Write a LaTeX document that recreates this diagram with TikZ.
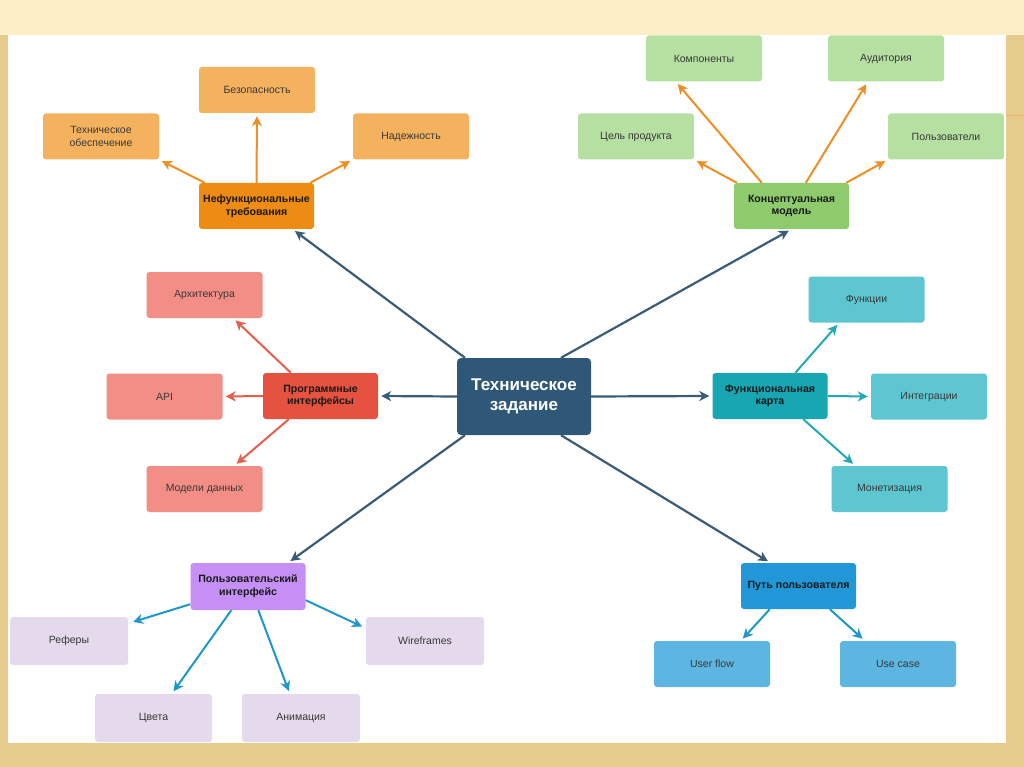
\documentclass[tikz,border=0pt]{standalone}
\usepackage{fontspec}
\setmainfont{Liberation Sans}
\usetikzlibrary{arrows.meta,calc}
\definecolor{frameA}{HTML}{E6CC8C}
\definecolor{frameB}{HTML}{FCEFC8}
\definecolor{cdark}{HTML}{2F5878}
\definecolor{carrow}{HTML}{3A5C76}
\definecolor{orP}{HTML}{EE8B12}
\definecolor{orC}{HTML}{F5B25E}
\definecolor{orA}{HTML}{EE8F24}
\definecolor{grP}{HTML}{8ECB6C}
\definecolor{grC}{HTML}{B6E0A2}
\definecolor{rdP}{HTML}{E5523F}
\definecolor{rdC}{HTML}{F28E85}
\definecolor{rdA}{HTML}{E5604C}
\definecolor{tlP}{HTML}{17A6B2}
\definecolor{tlC}{HTML}{5DC6D0}
\definecolor{tlA}{HTML}{22A9B5}
\definecolor{puP}{HTML}{C68FF5}
\definecolor{puC}{HTML}{E4DAEB}
\definecolor{blA}{HTML}{1F98C9}
\definecolor{blP}{HTML}{2197D7}
\definecolor{blC}{HTML}{5DB6E1}
\tikzset{
  bx/.style={rounded corners=3pt, minimum width=116pt, minimum height=46pt, align=center, inner sep=2pt, text=black!78, font=\fontsize{10.5}{12.5}\selectfont},
  pbx/.style={bx, minimum width=115pt, font=\fontsize{10.6}{12.8}\selectfont\bfseries, text=black!90},
  arr/.style={-{Stealth[length=10pt,width=10pt,inset=3pt]}, line width=2pt, shorten >=3pt},
  carr/.style={arr, color=carrow, line width=2.2pt},
}
\begin{document}
\begin{tikzpicture}[x=1pt,y=-1pt]
\useasboundingbox (0,0) rectangle (1024,767);
\fill[frameA] (0,0) rectangle (1024,767);
\fill[frameB] (0,0) rectangle (1024,35);
\fill[white] (8,35) rectangle (1006,743);
\draw[orA!70, line width=1pt] (1006,116) -- (1024,116);

% center
\node[rounded corners=4pt, fill=cdark, minimum width=134pt, minimum height=77pt, align=center, text=white, font=\fontsize{17}{20}\selectfont\bfseries] (c) at (524,396.5) {Техническое\\задание};

% orange group
\node[pbx, fill=orP] (nf) at (256.5,206) {Нефункциональные\\требования};
\node[bx, fill=orC] (bez) at (257,90) {Безопасность};
\node[bx, fill=orC] (teh) at (101,136.5) {Техническое\\обеспечение};
\node[bx, fill=orC] (nad) at (411,136.5) {Надежность};

% green group
\node[pbx, fill=grP] (km) at (791.5,206) {Концептуальная\\модель};
\node[bx, fill=grC] (komp) at (704,58.5) {Компоненты};
\node[bx, fill=grC] (aud) at (886,58.5) {Аудитория};
\node[bx, fill=grC] (cel) at (636,136.5) {Цель продукта};
\node[bx, fill=grC] (pol) at (946,136.5) {Пользователи};

% red group
\node[pbx, fill=rdP] (pi) at (320.5,396) {Программные\\интерфейсы};
\node[bx, fill=rdC] (arch) at (204.5,295) {Архитектура};
\node[bx, fill=rdC] (api) at (164.5,396.5) {API};
\node[bx, fill=rdC] (mod) at (204.5,489) {Модели данных};

% teal group
\node[pbx, fill=tlP] (fk) at (770,396) {Функциональная\\карта};
\node[bx, fill=tlC] (fun) at (866.5,299.5) {Функции};
\node[bx, fill=tlC] (int) at (929,396.5) {Интеграции};
\node[bx, fill=tlC] (mon) at (889.5,489) {Монетизация};

% purple group
\node[pbx, fill=puP, minimum height=47pt] (ui) at (248,586.5) {Пользовательский\\интерфейс};
\node[bx, fill=puC, minimum width=118pt, minimum height=48pt] (ref) at (69,641) {Реферы};
\node[bx, fill=puC, minimum width=117pt, minimum height=48pt] (cv) at (153.5,718) {Цвета};
\node[bx, fill=puC, minimum width=118pt, minimum height=48pt] (anim) at (301,718) {Анимация};
\node[bx, fill=puC, minimum width=118pt, minimum height=48pt] (wf) at (425,641) {Wireframes};

% blue group
\node[pbx, fill=blP] (put) at (798.5,586) {Путь пользователя};
\node[bx, fill=blC] (uf) at (712,664) {User flow};
\node[bx, fill=blC] (uc) at (898,664) {Use case};

% center arrows
\draw[carr] ($(c.north)+(-59,0)$) -- ($(nf.south)+(36,0)$);
\draw[carr] ($(c.north)+(37,0)$) -- (km.south);
\draw[carr] (c.west) -- (pi.east);
\draw[carr] (c.east) -- (fk.west);
\draw[carr] ($(c.south)+(-59,0)$) -- ($(ui.north)+(40,0)$);
\draw[carr] ($(c.south)+(37,0)$) -- ($(put.north)+(-28,0)$);

% orange arrows
\draw[arr, orA] (nf.north) -- (bez.south);
\draw[arr, orA] ($(nf.north west)+(6,0)$) -- (teh.south east);
\draw[arr, orA] ($(nf.north east)+(-4,0)$) -- (nad.south west);

% green arrows (orange colour)
\draw[arr, orA] ($(km.north west)+(28,0)$) -- ($(komp.south west)+(30,0)$);
\draw[arr, orA] ($(km.north west)+(3,0)$) -- (cel.south east);
\draw[arr, orA] ($(km.north west)+(72,0)$) -- ($(aud.south west)+(40,0)$);
\draw[arr, orA] ($(km.north east)+(-3,0)$) -- (pol.south west);

% red arrows
\draw[arr, rdA] ($(pi.north west)+(28,0)$) -- ($(arch.south west)+(87,0)$);
\draw[arr, rdA] (pi.west) -- (api.east);
\draw[arr, rdA] ($(pi.south west)+(26,0)$) -- ($(mod.north west)+(88,0)$);

% teal arrows
\draw[arr, tlA] ($(fk.north west)+(83,0)$) -- ($(fun.south west)+(31,0)$);
\draw[arr, tlA] (fk.east) -- (int.west);
\draw[arr, tlA] ($(fk.south west)+(91,0)$) -- ($(mon.north west)+(24,0)$);

% purple group arrows
\draw[arr, blA] ($(ui.south west)+(0,-6)$) -- ($(ref.north east)+(2,6)$);
\draw[arr, blA] ($(ui.south west)+(41,0)$) -- ($(cv.north west)+(77,0)$);
\draw[arr, blA] ($(ui.south west)+(68,0)$) -- ($(anim.north west)+(48,0)$);
\draw[arr, blA] ($(ui.south east)+(0,-10)$) -- ($(wf.north west)+(-1,11)$);

% blue group arrows
\draw[arr, blA] ($(put.south west)+(29,0)$) -- ($(uf.north west)+(87,0)$);
\draw[arr, blA] ($(put.south west)+(89,0)$) -- ($(uc.north west)+(25,0)$);
\end{tikzpicture}
\end{document}
